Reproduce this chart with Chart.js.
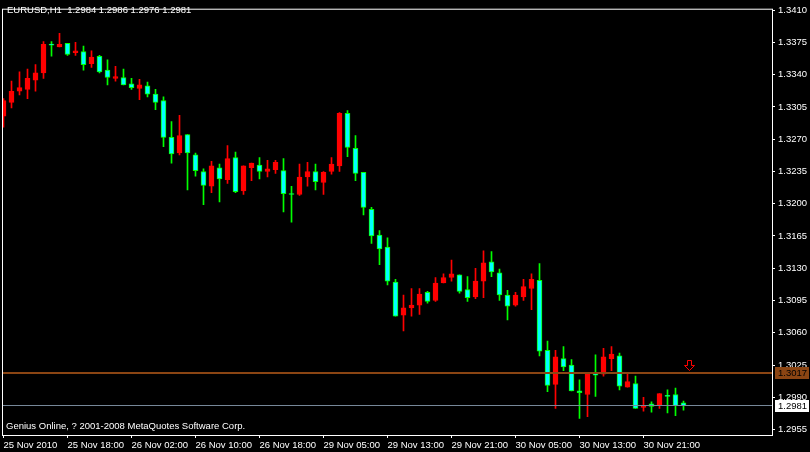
<!DOCTYPE html>
<html><head><meta charset="utf-8">
<script src="https://cdn.jsdelivr.net/npm/chart.js@4/dist/chart.umd.min.js"></script>
<style>html,body{margin:0;padding:0;background:#000;}#wrap{width:810px;height:452px;position:relative;}canvas{display:block;}</style>
</head><body><div id="wrap"><canvas id="c" width="810" height="452"></canvas></div>
<script>
const symbolTitle = 'EURUSD,H1  1.2984 1.2986 1.2976 1.2981';
const footerText = 'Genius Online, ? 2001-2008 MetaQuotes Software Corp.';
const timeLabels = ['25 Nov 2010','25 Nov 18:00','26 Nov 02:00','26 Nov 10:00','26 Nov 18:00','29 Nov 05:00','29 Nov 13:00','29 Nov 21:00','30 Nov 05:00','30 Nov 13:00','30 Nov 21:00'];
const barsPerLabel = 8;
const priceTicks = [1.2955,1.2990,1.3025,1.3060,1.3095,1.3130,1.3165,1.3200,1.3235,1.3270,1.3305,1.3340,1.3375,1.3410];

const openPrices = [
1.3295,1.3310,1.3322,1.3324,1.3334,1.3342,1.3373,1.3370,1.3374,1.3364,
1.3365,1.3352,1.3360,1.3345,1.3336,1.3337,1.3330,1.3325,1.3328,1.3319,
1.3312,1.3272,1.3255,1.3275,1.3253,1.3235,1.3219,1.3239,1.3226,1.3250,
1.3214,1.3239,1.3242,1.3235,1.3237,1.3236,1.3211,1.3210,1.3229,1.3235,
1.3223,1.3235,1.3241,1.3298,1.3260,1.3234,1.3194,1.3166,1.3153,1.3115,
1.3079,1.3087,1.3090,1.3104,1.3095,1.3114,1.3120,1.3123,1.3107,1.3099,
1.3116,1.3137,1.3125,1.3101,1.3090,1.3099,1.3108,1.3117,1.3041,1.3004,
1.3032,1.3025,1.2997,1.2993,1.3015,1.3015,1.3032,1.3035,1.3001,1.3005,
1.2979,1.2983,1.2981,1.2992,1.2993,1.2984];
const highPrices = [
1.3314,1.3333,1.3343,1.3346,1.3351,1.3376,1.3376,1.3385,1.3374,1.3375,
1.3371,1.3366,1.3361,1.3356,1.3349,1.3346,1.3336,1.3335,1.3332,1.3324,
1.3316,1.3289,1.3296,1.3275,1.3255,1.3238,1.3246,1.3243,1.3263,1.3256,
1.3241,1.3244,1.3250,1.3247,1.3247,1.3249,1.3219,1.3243,1.3245,1.3243,
1.3235,1.3250,1.3299,1.3301,1.3274,1.3234,1.3196,1.3171,1.3163,1.3118,
1.3101,1.3108,1.3108,1.3105,1.3120,1.3124,1.3139,1.3123,1.3121,1.3130,
1.3149,1.3148,1.3129,1.3106,1.3104,1.3118,1.3124,1.3135,1.3051,1.3041,
1.3045,1.3031,1.3009,1.3015,1.3036,1.3043,1.3045,1.3038,1.3016,1.3013,
1.2990,1.2985,1.2994,1.2998,1.3000,1.2986];
const lowPrices = [
1.3283,1.3304,1.3318,1.3314,1.3322,1.3336,1.3360,1.3370,1.3361,1.3361,
1.3345,1.3348,1.3342,1.3329,1.3333,1.3329,1.3324,1.3313,1.3316,1.3302,
1.3262,1.3244,1.3253,1.3215,1.3230,1.3199,1.3212,1.3202,1.3222,1.3212,
1.3210,1.3225,1.3227,1.3229,1.3233,1.3191,1.3180,1.3209,1.3219,1.3215,
1.3210,1.3232,1.3235,1.3251,1.3225,1.3188,1.3157,1.3134,1.3112,1.3078,
1.3062,1.3078,1.3080,1.3092,1.3094,1.3114,1.3116,1.3103,1.3094,1.3097,
1.3098,1.3121,1.3095,1.3074,1.3089,1.3095,1.3085,1.3035,1.2996,1.2978,
1.3019,1.2997,1.2967,1.2969,1.2991,1.3013,1.3019,1.2998,1.3001,1.2978,
1.2975,1.2974,1.2978,1.2973,1.2970,1.2976];
const closePrices = [
1.3312,1.3322,1.3326,1.3336,1.3342,1.3373,1.3372,1.3373,1.3362,1.3366,
1.3351,1.3359,1.3343,1.3337,1.3338,1.3329,1.3326,1.3329,1.3319,1.3310,
1.3272,1.3254,1.3274,1.3255,1.3236,1.3220,1.3241,1.3227,1.3249,1.3213,
1.3241,1.3244,1.3235,1.3238,1.3245,1.3211,1.3210,1.3229,1.3235,1.3224,
1.3234,1.3243,1.3298,1.3261,1.3233,1.3196,1.3165,1.3151,1.3116,1.3078,
1.3087,1.3090,1.3102,1.3094,1.3114,1.3120,1.3124,1.3105,1.3098,1.3116,
1.3136,1.3126,1.3101,1.3089,1.3101,1.3110,1.3118,1.3040,1.3003,1.3034,
1.3023,1.2997,1.2995,1.3015,1.3014,1.3034,1.3037,1.3002,1.3007,1.2978,
1.2981,1.2980,1.2994,1.2991,1.2981,1.2981];

const levelPrice = 1.3017;
const bidPrice = 1.2981;
const arrowBar = 85.75;
const arrowPrice = 1.3025;

const priceMin = 1.29491, priceMax = 1.34116;
const barMin = -0.1875, barMax = 96.0625;

const FONT = {family: '"Liberation Sans", Arial, sans-serif', size: 9.5};
const FONTSTR = '9.5px "Liberation Sans", Arial, sans-serif';
const BULL = '#ff0000', BEAR_FILL = '#00ffff', BEAR_LINE = '#00ff00';

const isBull = openPrices.map((o, i) => closePrices[i] > o);
const bodies = openPrices.map((o, i) => ({x: i, y: [o, closePrices[i]]}));
const wicks = lowPrices.map((l, i) => ({x: i, y: [l, highPrices[i]]}));

const overlay = {
  id: 'overlay',
  afterDatasetsDraw(chart) {
    const {ctx, chartArea: a, scales: {x, y}} = chart;
    ctx.save();
    ctx.beginPath(); ctx.rect(a.left, a.top, a.right - a.left, a.bottom - a.top); ctx.clip();
    const yl = Math.floor(y.getPixelForValue(levelPrice));
    ctx.fillStyle = '#8b4513';
    ctx.fillRect(a.left, yl, a.right - a.left, 2);
    const yb = Math.floor(y.getPixelForValue(bidPrice));
    ctx.fillStyle = '#778899';
    ctx.fillRect(a.left, yb, a.right - a.left, 1);
    // arrow
    const ax = Math.floor(x.getPixelForValue(arrowBar)) + 0.5;
    const ay = Math.floor(y.getPixelForValue(arrowPrice)) + 0.5;
    ctx.strokeStyle = '#ff0000'; ctx.lineWidth = 1;
    ctx.beginPath();
    ctx.moveTo(ax - 2, ay - 5); ctx.lineTo(ax + 2, ay - 5); ctx.lineTo(ax + 2, ay);
    ctx.lineTo(ax + 5, ay); ctx.lineTo(ax, ay + 5); ctx.lineTo(ax - 5, ay);
    ctx.lineTo(ax - 2, ay); ctx.closePath(); ctx.stroke();
    ctx.restore();
  },
  afterDraw(chart) {
    const {ctx, chartArea: a, scales: {y}} = chart;
    ctx.save();
    ctx.strokeStyle = '#ffffff'; ctx.lineWidth = 1;
    ctx.strokeRect(a.left + 0.5, a.top + 0.5, a.right - a.left, a.bottom - a.top);
    ctx.font = FONTSTR; ctx.textBaseline = 'middle'; ctx.textAlign = 'left';
    ctx.fillStyle = '#ffffff';
    ctx.fillText(symbolTitle, 7, 10);
    ctx.fillText(footerText, 6, 426);
    const boxes = [[levelPrice, '#8b4513', '#000000'], [bidPrice, '#ffffff', '#000000']];
    boxes.forEach(([p, bg, fg]) => {
      const py = Math.floor(y.getPixelForValue(p)) + 0.5;
      ctx.fillStyle = bg;
      ctx.fillRect(a.right + 3, Math.round(py - 6), 34, 12);
      ctx.fillStyle = fg;
      ctx.fillText(p.toFixed(4), a.right + 6, py + 0.5);
    });
    ctx.restore();
  }
};

new Chart(document.getElementById('c'), {
  type: 'bar',
  data: {
    datasets: [
      {
        label: 'body', data: bodies, order: 0, grouped: false, barThickness: 5,
        backgroundColor: isBull.map(b => b ? BULL : BEAR_FILL),
        borderColor: isBull.map(b => b ? BULL : BEAR_LINE),
        borderWidth: 1, borderSkipped: false, minBarLength: 1
      },
      {
        label: 'wick', data: wicks, order: 1, grouped: false, barThickness: 1,
        backgroundColor: isBull.map(b => b ? BULL : BEAR_LINE),
        borderWidth: 0, borderSkipped: false
      }
    ]
  },
  options: {
    responsive: false, animation: false,
    layout: {padding: {left: 2, top: 2, right: 0, bottom: 0}},
    plugins: {legend: {display: false}, tooltip: {enabled: false}, title: {display: false}},
    scales: {
      x: {
        type: 'linear', min: barMin, max: barMax, offset: false,
        afterFit(s) { s.height = 17; },
        afterBuildTicks(s) { s.ticks = timeLabels.map((_, i) => ({value: i * barsPerLabel})); },
        ticks: {color: '#ffffff', font: FONT, align: 'start', padding: 2, maxRotation: 0, autoSkip: false,
                callback: (v, i) => timeLabels[i]},
        grid: {display: true, drawOnChartArea: false, drawTicks: true, tickLength: 3, color: '#ffffff', offset: false},
        border: {display: false}
      },
      y: {
        type: 'linear', position: 'right', min: priceMin, max: priceMax, beginAtZero: false,
        afterFit(s) { s.width = 38; },
        afterBuildTicks(s) { s.ticks = priceTicks.map(v => ({value: v})); },
        ticks: {color: '#ffffff', font: FONT, padding: 3, autoSkip: false, callback: v => Number(v).toFixed(4)},
        grid: {display: true, drawOnChartArea: false, drawTicks: true, tickLength: 3, color: '#ffffff'},
        border: {display: false}
      }
    }
  },
  plugins: [overlay]
});
</script>
</body></html>
